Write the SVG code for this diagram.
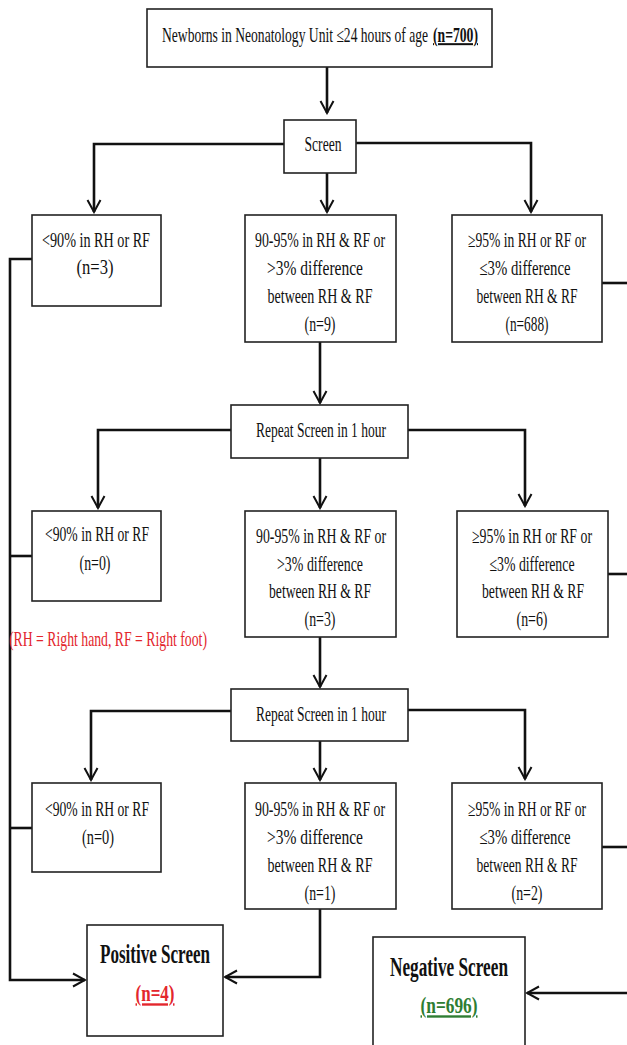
<svg xmlns="http://www.w3.org/2000/svg" width="627" height="1045" viewBox="0 0 627 1045">
<style>
.box{fill:#fff;stroke:#222;stroke-width:1.6}
.c{fill:none;stroke:#111;stroke-width:2.6}
.t{font-family:"Liberation Serif",serif;font-size:14px;text-anchor:middle;fill:#111}
.b{font-weight:bold;font-size:17px}
.s{text-anchor:start}
.u{text-decoration:underline}
.red{fill:#e3262d}
.grn{fill:#2e7d32}
</style>
<defs>
<marker id="ar" viewBox="-14 -8 16 16" refX="0" refY="0" markerWidth="16" markerHeight="16" markerUnits="userSpaceOnUse" orient="auto">
<path d="M-12,-6.5 L0,0 L-12,6.5" fill="none" stroke="#111" stroke-width="2"/>
</marker>
</defs>
<rect width="627" height="1045" fill="#fff"/>
<g id="connectors">
<path class="c" d="M327,67 V113" marker-end="url(#ar)"/>
<path class="c" d="M284,144 H94 V212" marker-end="url(#ar)"/>
<path class="c" d="M327,173 V212" marker-end="url(#ar)"/>
<path class="c" d="M356,143 H531 V212" marker-end="url(#ar)"/>
<path class="c" d="M32,259 H10 V980 H85" marker-end="url(#ar)"/>
<path class="c" d="M320,342 V403" marker-end="url(#ar)"/>
<path class="c" d="M231,430 H98 V508" marker-end="url(#ar)"/>
<path class="c" d="M320,458 V508" marker-end="url(#ar)"/>
<path class="c" d="M408,430 H525 V506" marker-end="url(#ar)"/>
<path class="c" d="M32,556 H10"/>
<path class="c" d="M320,637 V687" marker-end="url(#ar)"/>
<path class="c" d="M231,711 H91 V780" marker-end="url(#ar)"/>
<path class="c" d="M320,741 V780" marker-end="url(#ar)"/>
<path class="c" d="M408,710 H525 V779" marker-end="url(#ar)"/>
<path class="c" d="M32,828 H10"/>
<path class="c" d="M320,909 V977 H225" marker-end="url(#ar)"/>
<path class="c" d="M602,283 H632"/>
<path class="c" d="M608,574 H632"/>
<path class="c" d="M602,847 H632"/>
<path class="c" d="M632,283 V993 H527" marker-end="url(#ar)"/>
</g>
<g id="start">
<rect class="box" x="147" y="9" width="345" height="58"/>
<text class="t s" transform="translate(162,42) scale(1,1.43)" textLength="266" lengthAdjust="spacingAndGlyphs">Newborns in Neonatology Unit ≤24 hours of age</text>
<text class="t s u" font-weight="bold" transform="translate(433,42) scale(1,1.43)" textLength="45" lengthAdjust="spacingAndGlyphs">(n=700)</text>
</g>
<g id="screen">
<rect class="box" x="284" y="120" width="72" height="53"/>
<text class="t" transform="translate(323,151) scale(1,1.43)" textLength="37" lengthAdjust="spacingAndGlyphs">Screen</text>
</g>
<g id="r1-low">
<rect class="box" x="32" y="215" width="129" height="91"/>
<text class="t" transform="translate(96,247) scale(1,1.43)" textLength="108" lengthAdjust="spacingAndGlyphs">&lt;90% in RH or RF</text>
<text class="t" transform="translate(95,274) scale(1,1.43)" textLength="37" lengthAdjust="spacingAndGlyphs">(n=3)</text>
</g>
<g id="r1-mid">
<rect class="box" x="245" y="215" width="151" height="127"/>
<text class="t" transform="translate(320,247) scale(1,1.43)" textLength="130" lengthAdjust="spacingAndGlyphs">90-95% in RH &amp; RF or</text>
<text class="t" transform="translate(315,275) scale(1,1.43)" textLength="96" lengthAdjust="spacingAndGlyphs">&gt;3% difference</text>
<text class="t" transform="translate(320,303) scale(1,1.43)" textLength="105" lengthAdjust="spacingAndGlyphs">between RH &amp; RF</text>
<text class="t" transform="translate(320,331) scale(1,1.43)" textLength="31" lengthAdjust="spacingAndGlyphs">(n=9)</text>
</g>
<g id="r1-high">
<rect class="box" x="452" y="215" width="150" height="127"/>
<text class="t" transform="translate(527,247) scale(1,1.43)" textLength="118" lengthAdjust="spacingAndGlyphs">≥95% in RH or RF or</text>
<text class="t" transform="translate(525,275) scale(1,1.43)" textLength="91" lengthAdjust="spacingAndGlyphs">≤3% difference</text>
<text class="t" transform="translate(527,303) scale(1,1.43)" textLength="101" lengthAdjust="spacingAndGlyphs">between RH &amp; RF</text>
<text class="t" transform="translate(527,331) scale(1,1.43)" textLength="43" lengthAdjust="spacingAndGlyphs">(n=688)</text>
</g>
<g id="repeat1">
<rect class="box" x="231" y="405" width="177" height="53"/>
<text class="t" transform="translate(321,437) scale(1,1.43)" textLength="130" lengthAdjust="spacingAndGlyphs">Repeat Screen in 1 hour</text>
</g>
<g id="r2-low">
<rect class="box" x="32" y="511" width="129" height="90"/>
<text class="t" transform="translate(97,541) scale(1,1.43)" textLength="104" lengthAdjust="spacingAndGlyphs">&lt;90% in RH or RF</text>
<text class="t" transform="translate(95,570) scale(1,1.43)" textLength="31" lengthAdjust="spacingAndGlyphs">(n=0)</text>
</g>
<g id="r2-mid">
<rect class="box" x="245" y="511" width="151" height="126"/>
<text class="t" transform="translate(321,543) scale(1,1.43)" textLength="130" lengthAdjust="spacingAndGlyphs">90-95% in RH &amp; RF or</text>
<text class="t" transform="translate(320,571) scale(1,1.43)" textLength="86" lengthAdjust="spacingAndGlyphs">&gt;3% difference</text>
<text class="t" transform="translate(320,598) scale(1,1.43)" textLength="102" lengthAdjust="spacingAndGlyphs">between RH &amp; RF</text>
<text class="t" transform="translate(320,626) scale(1,1.43)" textLength="31" lengthAdjust="spacingAndGlyphs">(n=3)</text>
</g>
<g id="r2-high">
<rect class="box" x="457" y="511" width="151" height="126"/>
<text class="t" transform="translate(532,543) scale(1,1.43)" textLength="120" lengthAdjust="spacingAndGlyphs">≥95% in RH or RF or</text>
<text class="t" transform="translate(532,571) scale(1,1.43)" textLength="85" lengthAdjust="spacingAndGlyphs">≤3% difference</text>
<text class="t" transform="translate(533,598) scale(1,1.43)" textLength="102" lengthAdjust="spacingAndGlyphs">between RH &amp; RF</text>
<text class="t" transform="translate(532,626) scale(1,1.43)" textLength="31" lengthAdjust="spacingAndGlyphs">(n=6)</text>
</g>
<g id="legend">
<text class="t s red" transform="translate(9,646) scale(1,1.45)" textLength="198" lengthAdjust="spacingAndGlyphs">(RH = Right hand, RF = Right foot)</text>
</g>
<g id="repeat2">
<rect class="box" x="231" y="689" width="177" height="52"/>
<text class="t" transform="translate(321,721) scale(1,1.43)" textLength="130" lengthAdjust="spacingAndGlyphs">Repeat Screen in 1 hour</text>
</g>
<g id="r3-low">
<rect class="box" x="32" y="783" width="129" height="89"/>
<text class="t" transform="translate(97,816) scale(1,1.43)" textLength="104" lengthAdjust="spacingAndGlyphs">&lt;90% in RH or RF</text>
<text class="t" transform="translate(98,844) scale(1,1.43)" textLength="32" lengthAdjust="spacingAndGlyphs">(n=0)</text>
</g>
<g id="r3-mid">
<rect class="box" x="245" y="783" width="151" height="126"/>
<text class="t" transform="translate(320,816) scale(1,1.43)" textLength="130" lengthAdjust="spacingAndGlyphs">90-95% in RH &amp; RF or</text>
<text class="t" transform="translate(315,844) scale(1,1.43)" textLength="96" lengthAdjust="spacingAndGlyphs">&gt;3% difference</text>
<text class="t" transform="translate(320,872) scale(1,1.43)" textLength="105" lengthAdjust="spacingAndGlyphs">between RH &amp; RF</text>
<text class="t" transform="translate(320,900) scale(1,1.43)" textLength="31" lengthAdjust="spacingAndGlyphs">(n=1)</text>
</g>
<g id="r3-high">
<rect class="box" x="452" y="783" width="150" height="126"/>
<text class="t" transform="translate(527,816) scale(1,1.43)" textLength="118" lengthAdjust="spacingAndGlyphs">≥95% in RH or RF or</text>
<text class="t" transform="translate(525,844) scale(1,1.43)" textLength="91" lengthAdjust="spacingAndGlyphs">≤3% difference</text>
<text class="t" transform="translate(527,872) scale(1,1.43)" textLength="101" lengthAdjust="spacingAndGlyphs">between RH &amp; RF</text>
<text class="t" transform="translate(527,900) scale(1,1.43)" textLength="31" lengthAdjust="spacingAndGlyphs">(n=2)</text>
</g>
<g id="positive">
<rect class="box" x="87" y="925" width="136" height="111"/>
<text class="t b" transform="translate(155,963) scale(1,1.6)" textLength="110" lengthAdjust="spacingAndGlyphs">Positive Screen</text>
<text class="t b u red" transform="translate(155,1001) scale(1,1.4)" textLength="39" lengthAdjust="spacingAndGlyphs">(n=4)</text>
</g>
<g id="negative">
<rect class="box" x="373" y="937" width="152" height="120"/>
<text class="t b" transform="translate(449,976) scale(1,1.6)" textLength="118" lengthAdjust="spacingAndGlyphs">Negative Screen</text>
<text class="t b u grn" transform="translate(449,1013) scale(1,1.4)" textLength="57" lengthAdjust="spacingAndGlyphs">(n=696)</text>
</g>
</svg>
